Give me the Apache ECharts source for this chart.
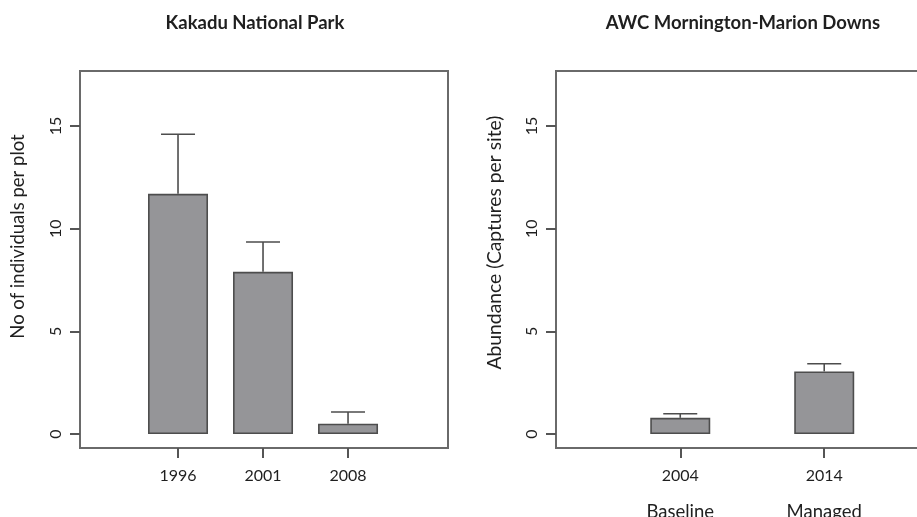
<!DOCTYPE html>
<html><head><meta charset="utf-8">
<script src="https://cdn.jsdelivr.net/npm/echarts@6/dist/echarts.min.js"></script>
<style>html,body{margin:0;padding:0;background:#fff}#c{width:917px;height:517px}</style>
</head><body><div id="c"></div>
<script>
// ---- data ----
const kakaduTitle = 'Kakadu National Park';
const kakaduYears = ['1996', '2001', '2008'];
const kakaduMeans = [11.7, 7.9, 0.5];
const kakaduUpper = [14.6, 9.35, 1.07];
const kakaduYName = 'No of individuals per plot';

const awcTitle = 'AWC Mornington-Marion Downs';
const awcYears = ['2004', '2014'];
const awcPeriods = ['Baseline', 'Managed'];
const awcMeans = [0.79, 3.05];
const awcUpper = [0.99, 3.42];
const awcYName = 'Abundance (Captures per site)';

const yTicks = [0, 5, 10, 15];

// ---- style ----
const FONT = 'Lato';
const TXT = '#1f1f1f';
const FRAME = '#6a6a6a';
const TICK = '#555555';
const BAR = '#959598';
const BAR_EDGE = '#4d4d4d';

const chart = echarts.init(document.getElementById('c'), null, {renderer: 'canvas'});

const pts = (means) => means.map((m, i) => [i + 1, m]);
const errs = (means, up) => means.map((m, i) => [i + 1, m, up[i]]);

function errRender(params, api) {
  const x = api.value(0), m = api.value(1), u = api.value(2);
  const p0 = api.coord([x, m]);
  const p1 = api.coord([x, u]);
  const st = {stroke: BAR_EDGE, lineWidth: 1.6};
  return {type: 'group', children: [
    {type: 'line', shape: {x1: p0[0], y1: p0[1], x2: p1[0], y2: p1[1]}, style: st},
    {type: 'line', shape: {x1: p1[0] - 17, y1: p1[1], x2: p1[0] + 17, y2: p1[1]}, style: st}
  ]};
}

function yAxis(gi, name, shift, nameSize) {
  return {
    type: 'value', gridIndex: gi, min: -0.68, max: 17.68,
    name: name, nameLocation: 'middle', nameRotate: 90, nameGap: 52,
    nameTextStyle: {fontFamily: FONT, fontSize: nameSize, color: TXT, padding: [0, 0, 0, shift]},
    axisLine: {show: true, onZero: false, lineStyle: {color: FRAME, width: 2}},
    axisTick: {show: true, customValues: yTicks, length: 10, lineStyle: {color: TICK, width: 2}},
    axisLabel: {show: true, customValues: yTicks, rotate: 90, margin: 16,
      fontFamily: FONT, fontSize: 16, color: TXT},
    splitLine: {show: false}
  };
}

function xAxis(gi, min, max, n, fmt) {
  const ticks = [];
  for (let i = 1; i <= n; i++) ticks.push(i);
  return {
    type: 'value', gridIndex: gi, min: min, max: max,
    axisLine: {show: true, onZero: false, lineStyle: {color: FRAME, width: 2}},
    axisTick: {show: true, customValues: ticks, length: 10, lineStyle: {color: TICK, width: 2}},
    axisLabel: {show: true, customValues: ticks, margin: 10, formatter: fmt,
      fontFamily: FONT, fontSize: 16, color: TXT, lineHeight: 36,
      rich: {a: {fontFamily: FONT, fontSize: 16, color: TXT, lineHeight: 36},
             b: {fontFamily: FONT, fontSize: 18.5, color: TXT, lineHeight: 36}}},
    splitLine: {show: false}
  };
}

const option = {
  backgroundColor: '#fff',
  animation: false,
  title: [
    {text: kakaduTitle, left: 250, top: 9, textAlign: 'center',
     textStyle: {fontFamily: FONT, fontWeight: 'bold', fontSize: 18.5, color: TXT}},
    {text: awcTitle, left: 738, top: 9, textAlign: 'center',
     textStyle: {fontFamily: FONT, fontWeight: 'bold', fontSize: 18.5, color: TXT}}
  ],
  grid: [
    {left: 80, top: 71, width: 368, height: 377, show: true, borderColor: FRAME, borderWidth: 2,
     backgroundColor: 'transparent', outerBoundsMode: 'none', containLabel: false},
    {left: 556, top: 71, width: 368, height: 377, show: true, borderColor: FRAME, borderWidth: 2,
     backgroundColor: 'transparent', outerBoundsMode: 'none', containLabel: false}
  ],
  xAxis: [
    xAxis(0, -0.153, 4.176, kakaduYears.length, v => kakaduYears[Math.round(v) - 1] || ''),
    xAxis(1, 0.137, 2.693, awcYears.length, v => {
      const i = Math.round(v) - 1;
      return '{a|' + awcYears[i] + '}\n{b|' + awcPeriods[i] + '}';
    })
  ],
  yAxis: [yAxis(0, kakaduYName, 46, 18.5), yAxis(1, awcYName, 34, 19.3)],
  series: [
    {type: 'bar', xAxisIndex: 0, yAxisIndex: 0, data: pts(kakaduMeans), barWidth: 60,
     itemStyle: {color: BAR, borderColor: BAR_EDGE, borderWidth: 1.6}},
    {type: 'custom', xAxisIndex: 0, yAxisIndex: 0, data: errs(kakaduMeans, kakaduUpper),
     encode: {x: 0, y: [1, 2]}, renderItem: errRender, z: 1},
    {type: 'bar', xAxisIndex: 1, yAxisIndex: 1, data: pts(awcMeans), barWidth: 60,
     itemStyle: {color: BAR, borderColor: BAR_EDGE, borderWidth: 1.6}},
    {type: 'custom', xAxisIndex: 1, yAxisIndex: 1, data: errs(awcMeans, awcUpper),
     encode: {x: 0, y: [1, 2]}, renderItem: errRender, z: 1}
  ]
};
chart.setOption(option);
</script></body></html>
